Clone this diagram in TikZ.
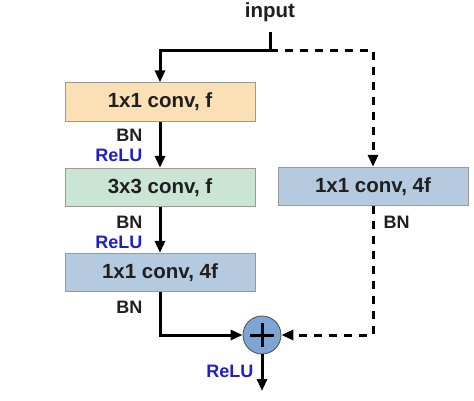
\documentclass[tikz,border=0pt]{standalone}
\usepackage{fontspec}
\setmainfont{Liberation Sans}
\usetikzlibrary{arrows.meta}
\definecolor{boxorange}{HTML}{FBE0B6}
\definecolor{boxgreen}{HTML}{CBE5D5}
\definecolor{boxblue}{HTML}{B5C9DF}
\definecolor{addblue}{HTML}{7DA6D5}
\definecolor{relublue}{HTML}{1F1FC8}
\begin{document}
\begin{tikzpicture}[x=1pt,y=-1pt,
  layer/.style={draw=black!40, line width=0.8pt, minimum height=38.5pt, minimum width=190pt, inner sep=0pt,
    font=\fontsize{20.5}{24}\selectfont\bfseries, text=black!88},
  flow/.style={line width=3pt, -{Triangle[length=12pt,width=10pt]}},
  flowdash/.style={flow, dash pattern=on 8pt off 7pt},
  bn/.style={font=\fontsize{18}{21}\selectfont\bfseries, text=black!88, anchor=east},
  relu/.style={font=\fontsize{18}{21}\selectfont\bfseries, text=relublue, anchor=east},
]
\useasboundingbox (0,0) rectangle (474,400);
\node[font=\fontsize{20.5}{24}\selectfont\bfseries, text=black!88] (in) at (270,12) {input};
\node[layer, fill=boxorange] (b1) at (160,102) {1x1 conv, f};
\node[layer, fill=boxgreen] (b2) at (160,187.5) {3x3 conv, f};
\node[layer, fill=boxblue] (b3) at (160,272.5) {1x1 conv, 4f};
\node[layer, fill=boxblue] (b4) at (373,186.5) {1x1 conv, 4f};
\node[circle, draw=black!70, line width=0.8pt, fill=addblue, minimum size=38pt, inner sep=0pt] (add) at (262,335) {};
\draw[line width=3pt] (add.center) ++(-12,0) -- ++(24,0);
\draw[line width=3pt] (add.center) ++(0,-12) -- ++(0,24);
\coordinate (split) at (270,50);
\coordinate (top) at (270,32);
\coordinate (out) at (262,391);
% main path
\draw[line width=3pt] (top) -- (split);
\draw[flow] (split) -| (b1.north);
\draw[flow] (b1.south) -- (b2.north);
\draw[flow] (b2.south) -- (b3.north);
\draw[flow] (b3.south) |- (add.west);
\draw[flow] (add.south) -- (out);
% shortcut
\draw[flowdash] (split) -| (b4.north);
\draw[flowdash] (b4.south) |- (add.east);
% labels
\node[bn] (bn1) at (146,135) {BN};
\node[relu] (relu1) at (146,155) {ReLU};
\node[bn] (bn2) at (146,222) {BN};
\node[relu] (relu2) at (146,242) {ReLU};
\node[bn] (bn3) at (146,307) {BN};
\node[relu] (relu3) at (257,371) {ReLU};
\node[bn, anchor=west] (bn4) at (380,222) {BN};
\end{tikzpicture}
\end{document}
